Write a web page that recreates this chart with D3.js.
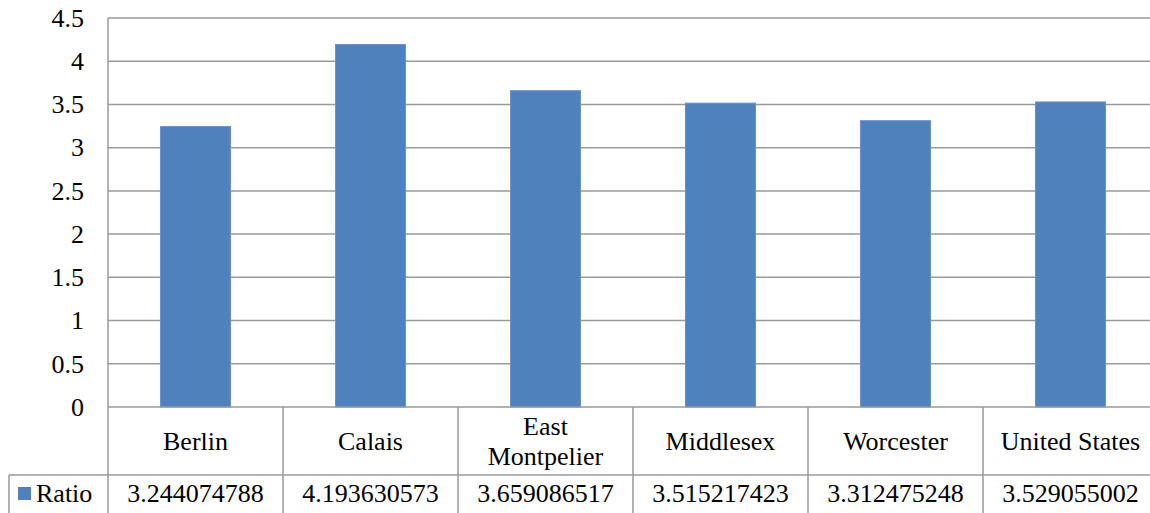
<!DOCTYPE html>
<html>
<head>
<meta charset="utf-8">
<script src="https://cdn.jsdelivr.net/npm/d3@7/dist/d3.min.js"></script>
</head>
<body style="margin:0;background:#fff">
<svg id="chart" width="1150" height="513" style="display:block">
<text id="seriesLabel" x="36" y="502" font-size="26" font-family="Liberation Serif" fill="#000">Ratio</text>
</svg>
<script>
// Ratio by place
const categories = ["Berlin", "Calais", "East Montpelier", "Middlesex", "Worcester", "United States"];
const categoryLines = [["Berlin"], ["Calais"], ["East", "Montpelier"], ["Middlesex"], ["Worcester"], ["United States"]];
const ratioValues = [3.244074788, 4.193630573, 3.659086517, 3.515217423, 3.312475248, 3.529055002];
const ratioLabels = ["3.244074788", "4.193630573", "3.659086517", "3.515217423", "3.312475248", "3.529055002"];
const yTicks = [0, 0.5, 1, 1.5, 2, 2.5, 3, 3.5, 4, 4.5];
const seriesName = "Ratio";

const svg = d3.select("#chart");
const plotLeft = 108, plotRight = 1158, plotTop = 18, zeroY = 407;
const catRowBottom = 475, tableBottom = 540, legendLeft = 9;
const gridColor = "#9a9a9a";
const barColor = "#4f81bd";
const fontSize = 26;
const fontName = "Liberation Serif";

const x = d3.scaleBand().domain(categories).range([plotLeft, plotRight]).paddingInner(0.6).paddingOuter(0.3);
const xCol = d3.scaleBand().domain(categories).range([plotLeft, plotRight]);
const y = d3.scaleLinear().domain([0, 4.5]).range([zeroY, plotTop]);

const back = svg.insert("g", ":first-child");

// horizontal gridlines
back.append("g").selectAll("line").data(yTicks.filter(d => d > 0)).join("line")
  .attr("x1", plotLeft).attr("x2", plotRight)
  .attr("y1", d => y(d)).attr("y2", d => y(d))
  .attr("stroke", gridColor).attr("stroke-width", 1.5);

// y tick labels
const yAxis = d3.axisLeft(y).tickValues(yTicks).tickSize(0).tickPadding(24).tickFormat(d3.format("~g"));
const ya = back.append("g").attr("transform", `translate(${plotLeft},0)`).call(yAxis);
ya.attr("font-family", fontName).attr("font-size", fontSize);
ya.select(".domain").remove();
ya.selectAll("text").attr("font-family", fontName).attr("font-size", fontSize).attr("fill", "#000");

// bars
back.append("g").selectAll("rect").data(categories).join("rect")
  .attr("x", d => x(d))
  .attr("width", x.bandwidth())
  .attr("y", (d, i) => y(ratioValues[i]))
  .attr("height", (d, i) => zeroY - y(ratioValues[i]))
  .attr("fill", barColor)
  .attr("stroke", "#6594cf").attr("stroke-width", 1);

// table lines
const t = back.append("g").attr("stroke", gridColor).attr("stroke-width", 1.5).attr("fill", "none");
t.append("line").attr("x1", plotLeft).attr("x2", plotRight).attr("y1", zeroY).attr("y2", zeroY);
t.append("line").attr("x1", plotLeft).attr("x2", plotLeft).attr("y1", plotTop).attr("y2", tableBottom);
t.append("line").attr("x1", legendLeft).attr("x2", plotRight).attr("y1", catRowBottom).attr("y2", catRowBottom);
t.append("line").attr("x1", legendLeft).attr("x2", legendLeft).attr("y1", catRowBottom).attr("y2", tableBottom);
t.selectAll(".div").data(categories.slice(1)).join("line")
  .attr("x1", d => xCol(d)).attr("x2", d => xCol(d))
  .attr("y1", zeroY).attr("y2", tableBottom);

// category labels
const cat = back.append("g").attr("text-anchor", "middle").attr("fill", "#000");
categories.forEach((c, i) => {
  const lines = categoryLines[i];
  const cx = xCol(c) + xCol.bandwidth() / 2;
  const lh = 30;
  const base = 450 - (lines.length - 1) * lh / 2;
  lines.forEach((ln, j) => {
    cat.append("text").attr("x", cx).attr("y", base + j * lh)
      .attr("font-family", fontName).attr("font-size", fontSize).text(ln);
  });
});

// data row values
back.append("g").attr("text-anchor", "middle").attr("fill", "#000")
  .selectAll("text").data(categories).join("text")
  .attr("x", d => xCol(d) + xCol.bandwidth() / 2)
  .attr("y", 502)
  .attr("font-family", fontName).attr("font-size", fontSize)
  .text((d, i) => ratioLabels[i]);

// legend key in the data row
back.append("rect").attr("x", 18).attr("y", 487).attr("width", 13).attr("height", 13).attr("fill", barColor);
d3.select("#seriesLabel").text(seriesName);
</script>
</body>
</html>
